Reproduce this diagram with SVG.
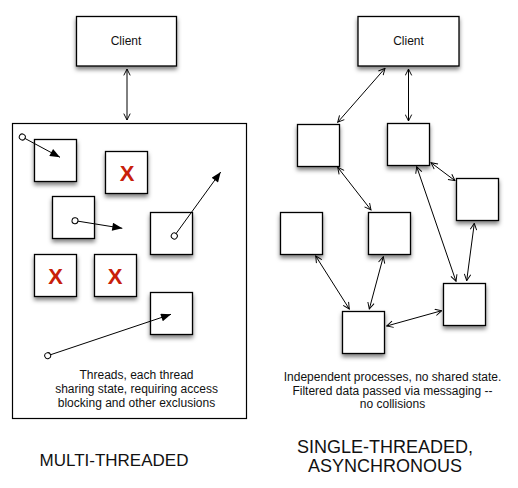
<svg xmlns="http://www.w3.org/2000/svg" width="518" height="488" viewBox="0 0 518 488">
<style>
.box{fill:#fff;stroke:#000;stroke-width:1.3;filter:url(#sh)}
.frame{fill:#fff;stroke:#000;stroke-width:1.2}
.t{font-family:"Liberation Sans",Arial,sans-serif;fill:#111;text-anchor:middle}
.x{font-family:"Liberation Sans",Arial,sans-serif;font-weight:bold;font-size:22px;fill:#c8200a;text-anchor:middle}
.dbl{stroke:#000;stroke-width:1;fill:none;marker-start:url(#open);marker-end:url(#open)}
.thr{stroke:#000;stroke-width:1;fill:none;marker-start:url(#dot);marker-end:url(#solid)}
</style>
<defs>
<filter id="sh" x="-30%" y="-30%" width="160%" height="170%">
<feDropShadow dx="0" dy="3" stdDeviation="2" flood-color="#000" flood-opacity="0.5"/>
</filter>
<marker id="open" viewBox="0 0 10 10" refX="9" refY="5" markerWidth="8" markerHeight="8" markerUnits="userSpaceOnUse" orient="auto-start-reverse">
<path d="M1,1 L9,5 L1,9" fill="none" stroke="#000" stroke-width="1.2"/>
</marker>
<marker id="solid" viewBox="0 0 10 8" refX="10" refY="4" markerWidth="11" markerHeight="8" markerUnits="userSpaceOnUse" orient="auto">
<path d="M0,0 L10,4 L0,8 Z" fill="#000"/>
</marker>
<marker id="dot" viewBox="0 0 8 8" refX="4" refY="4" markerWidth="8" markerHeight="8" markerUnits="userSpaceOnUse" orient="auto">
<circle cx="4" cy="4" r="3" fill="#fff" stroke="#000" stroke-width="1"/>
</marker>
</defs>

<g id="mt-frame"><rect class="frame" x="12.5" y="123.5" width="234" height="295"/></g>

<g id="client-left"><rect class="box" x="76.5" y="16.5" width="100" height="49.5"/><text class="t" x="126" y="45" font-size="12">Client</text></g>
<g id="client-right"><rect class="box" x="358" y="16.5" width="101" height="49.5"/><text class="t" x="408.5" y="45" font-size="12">Client</text></g>

<g id="t1"><rect class="box" x="34.5" y="139.5" width="42" height="42"/></g>
<g id="t2"><rect class="box" x="105.5" y="151.5" width="42" height="42"/><text class="x" x="127" y="181">X</text></g>
<g id="t3"><rect class="box" x="52.5" y="196.5" width="42" height="42"/></g>
<g id="t4"><rect class="box" x="150.5" y="212.5" width="42" height="42"/></g>
<g id="t5"><rect class="box" x="34.5" y="254.5" width="42" height="42"/><text class="x" x="55.5" y="284">X</text></g>
<g id="t6"><rect class="box" x="94.5" y="254.5" width="42" height="42"/><text class="x" x="115" y="284">X</text></g>
<g id="t7"><rect class="box" x="150.5" y="292.5" width="42" height="42"/></g>

<g id="r1"><rect class="box" x="297.5" y="124.5" width="42" height="42"/></g>
<g id="r2"><rect class="box" x="387.5" y="123.5" width="42" height="42"/></g>
<g id="r3"><rect class="box" x="456.5" y="178.5" width="42" height="42"/></g>
<g id="r4"><rect class="box" x="280.5" y="212.5" width="42" height="42"/></g>
<g id="r5"><rect class="box" x="368.5" y="212.5" width="42" height="42"/></g>
<g id="r6"><rect class="box" x="443.5" y="283.5" width="42" height="42"/></g>
<g id="r7"><rect class="box" x="342.5" y="311.5" width="42" height="42"/></g>

<g id="connectors">
<line class="dbl" x1="127" y1="69" x2="127" y2="120"/>
<line class="thr" x1="22.3" y1="137" x2="60" y2="157.3"/>
<line class="thr" x1="75" y1="220.7" x2="122.3" y2="228.3"/>
<line class="thr" x1="174.3" y1="236" x2="220.7" y2="172"/>
<line class="thr" x1="47.7" y1="355.7" x2="171" y2="314.3"/>

<line class="dbl" x1="385" y1="68.3" x2="337.7" y2="122.3"/>
<line class="dbl" x1="408.5" y1="69" x2="408.5" y2="121"/>
<line class="dbl" x1="337.7" y1="167.3" x2="371" y2="210"/>
<line class="dbl" x1="431" y1="162.7" x2="455" y2="180.7"/>
<line class="dbl" x1="416.7" y1="166.7" x2="456" y2="281.3"/>
<line class="dbl" x1="474.3" y1="223.3" x2="466.7" y2="280.7"/>
<line class="dbl" x1="315.7" y1="256" x2="349.3" y2="309"/>
<line class="dbl" x1="383.3" y1="256.7" x2="369.3" y2="309"/>
<line class="dbl" x1="386.7" y1="326" x2="441.7" y2="310.7"/>
</g>

<g id="labels">
<text class="t" font-size="12" x="136.5"><tspan x="136.5" y="379">Threads, each thread</tspan><tspan x="136.5" y="393">sharing state, requiring access</tspan><tspan x="136.5" y="407">blocking and other exclusions</tspan></text>
<text class="t" font-size="12" x="392.5"><tspan x="392.5" y="381">Independent processes, no shared state.</tspan><tspan x="392.5" y="394.5">Filtered data passed via messaging --</tspan><tspan x="392.5" y="408">no collisions</tspan></text>
<text class="t" font-size="17" x="114" y="466">MULTI-THREADED</text>
<text class="t" font-size="18" x="385"><tspan x="385" y="452.5">SINGLE-THREADED,</tspan><tspan x="385" y="471.5">ASYNCHRONOUS</tspan></text>
</g>
</svg>
